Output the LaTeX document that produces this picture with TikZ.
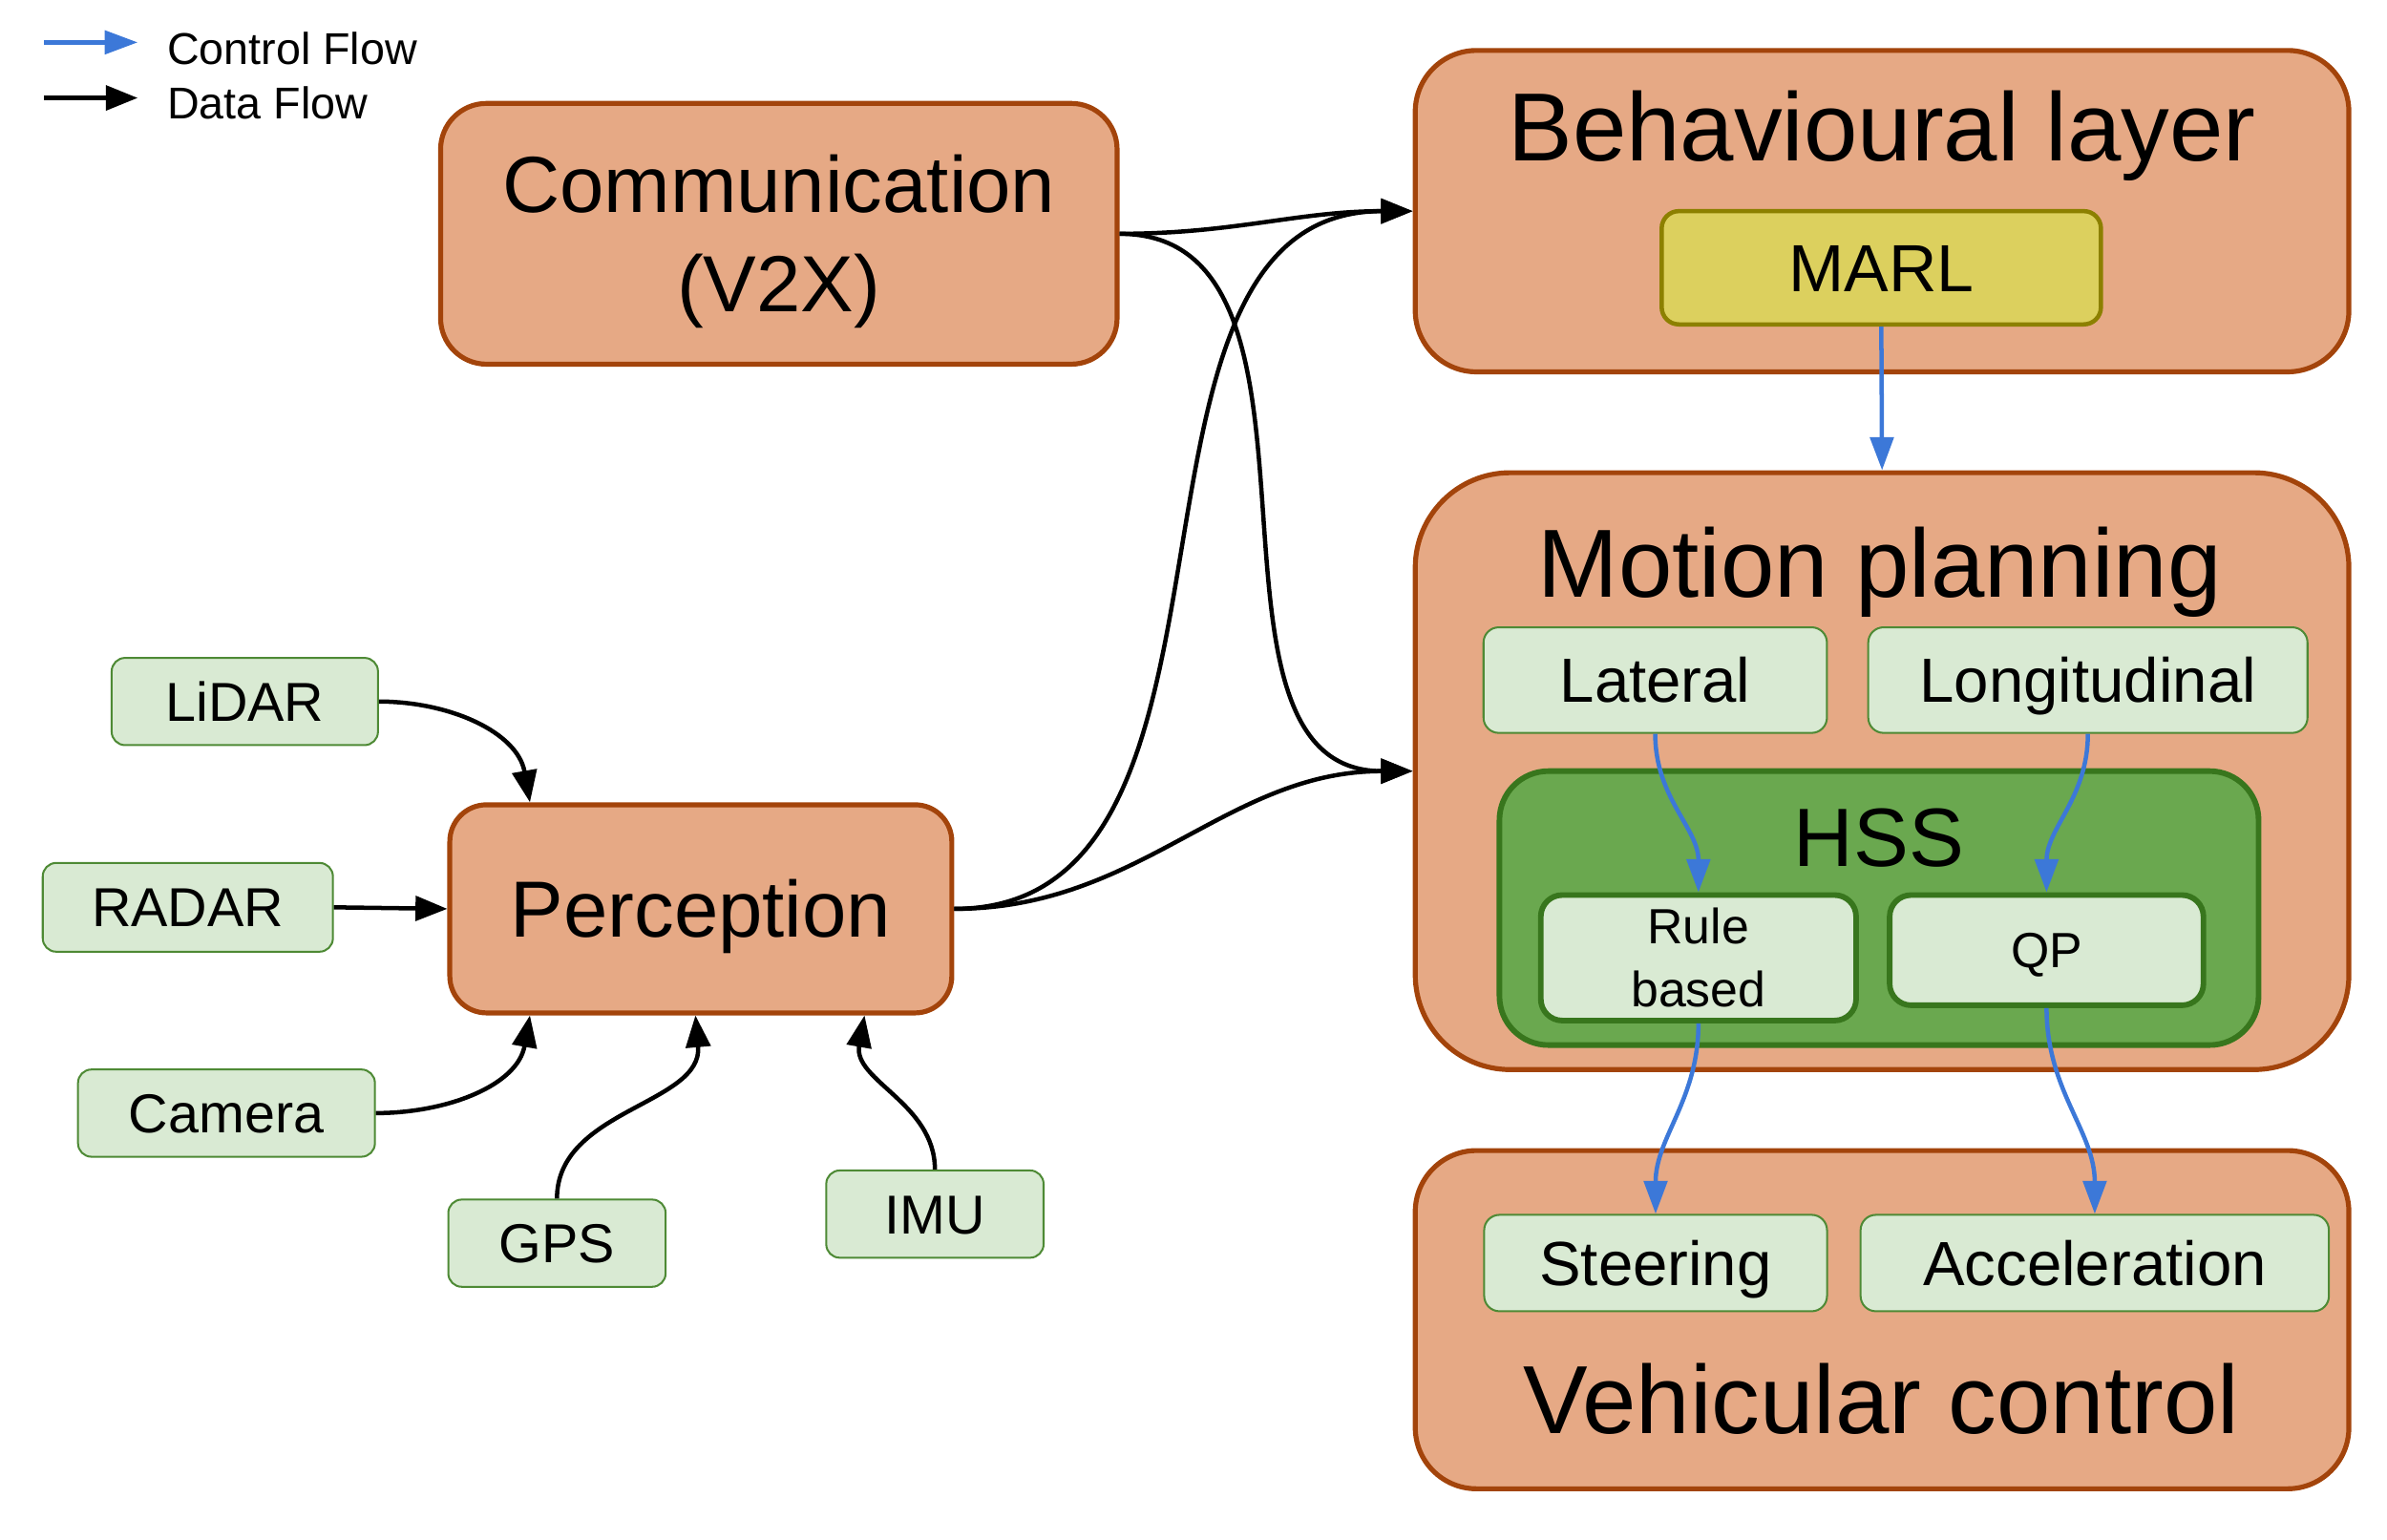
\documentclass[tikz,border=0pt]{standalone}
\usepackage{fontspec}
\setmainfont{Liberation Sans}
\usetikzlibrary{arrows.meta,calc}
\definecolor{salmon}{HTML}{E6A985}
\definecolor{rust}{HTML}{A3440B}
\definecolor{lgreen}{HTML}{D9EAD3}
\definecolor{lgborder}{HTML}{4E8A35}
\definecolor{mgreen}{HTML}{6AA84F}
\definecolor{dgreen}{HTML}{38761D}
\definecolor{ylw}{HTML}{DCD05E}
\definecolor{olive}{HTML}{8C8000}
\definecolor{cblue}{HTML}{3C78D8}
\tikzset{
  bigbox/.style={draw=rust, fill=salmon, line width=2.3pt, inner sep=0pt},
  sensor/.style={draw=lgborder, fill=lgreen, line width=0.9pt, rounded corners=0.22cm, inner sep=0pt,
    font=\fontsize{25.5}{30}\selectfont, text height=18.3pt, text depth=0pt},
  subbox/.style={draw=lgborder, fill=lgreen, line width=0.9pt, rounded corners=0.25cm, inner sep=0pt,
    font=\fontsize{29}{34}\selectfont, text height=20.8pt, text depth=0pt},
  hssbox/.style={draw=dgreen, fill=mgreen, line width=2.6pt, rounded corners=0.8cm, inner sep=0pt},
  algbox/.style={draw=dgreen, fill=lgreen, line width=2.6pt, rounded corners=0.35cm, inner sep=0pt},
  algtext/.style={anchor=base, inner sep=0pt, font=\fontsize{23}{28}\selectfont},
  title/.style={anchor=base, inner sep=0pt, font=\fontsize{45}{54}\selectfont},
  data/.style={line width=2pt, -{Triangle[length=0.52cm,width=0.4cm]}},
  ctrl/.style={line width=2pt, cblue, -{Triangle[length=0.54cm,width=0.38cm]}},
}
\begin{document}
\begin{tikzpicture}[x=0.025cm, y=-0.025cm]
\useasboundingbox (0,0) rectangle (1560,1006);
% legend
\coordinate (lc1) at (29,27.7); \coordinate (lc2) at (90,27.7);
\coordinate (ld1) at (29,64); \coordinate (ld2) at (90,64);
\draw[ctrl] (lc1) -- (lc2);
\draw[data] (ld1) -- (ld2);
\node[anchor=base west, inner sep=0pt, font=\fontsize{20.7}{25}\selectfont] (lgc) at (109,42) {Control Flow};
\node[anchor=base west, inner sep=0pt, font=\fontsize{20.7}{25}\selectfont] (lgd) at (109,77.4) {Data Flow};

% communication
\node[bigbox, rounded corners=0.75cm, minimum width=11.05cm, minimum height=4.26cm] (comm) at (509,152.8) {};
\node[anchor=base, inner sep=0pt, font=\fontsize{37}{44}\selectfont] (commA) at (509,139) {Communication};
\node[anchor=base, inner sep=0pt, font=\fontsize{37}{44}\selectfont] (commB) at (509,204) {(V2X)};

% behavioural layer
\node[bigbox, rounded corners=1.0cm, minimum width=15.25cm, minimum height=5.25cm] (beh) at (1230,138) {};
\node[title] (behT) at (1230,105) {Behavioural layer};
\node[draw=olive, fill=ylw, line width=2pt, rounded corners=0.28cm, minimum width=7.175cm, minimum height=1.85cm,
  inner sep=0pt, font=\fontsize{31}{37}\selectfont, text height=22.2pt, text depth=0pt] (marl) at (1229.5,175) {MARL};

% motion planning
\node[bigbox, rounded corners=1.55cm, minimum width=15.25cm, minimum height=9.75cm] (mp) at (1230,504) {};
\node[title] (mpT) at (1228.5,390) {Motion planning};
\node[subbox, minimum width=5.61cm, minimum height=1.725cm] (lat) at (1081.75,444.5) {Lateral};
\node[subbox, minimum width=7.175cm, minimum height=1.725cm] (lon) at (1364.5,444.5) {Longitudinal};
\node[hssbox, minimum width=12.4cm, minimum height=4.475cm] (hss) at (1228,593.5) {};
\node[anchor=base, inner sep=0pt, font=\fontsize{38.5}{46}\selectfont] (hssT) at (1228,566) {HSS};
\node[algbox, minimum width=5.15cm, minimum height=2.05cm] (rule) at (1110,626) {};
\node[algtext] (ruleA) at (1110,617) {Rule};
\node[algtext] (ruleB) at (1110,658) {based};
\node[algbox, minimum width=5.125cm, minimum height=1.8cm, font=\fontsize{23}{28}\selectfont, text height=16.5pt, text depth=0pt] (qp) at (1337.5,621) {QP};

% vehicular control
\node[bigbox, rounded corners=1.0cm, minimum width=15.25cm, minimum height=5.525cm] (vc) at (1230,862.5) {};
\node[title] (vcT) at (1229.5,937) {Vehicular control};
\node[subbox, minimum width=5.6cm, minimum height=1.575cm] (steer) at (1082,825.5) {Steering};
\node[subbox, minimum width=7.65cm, minimum height=1.575cm] (acc) at (1369,825.5) {Acceleration};

% perception and sensors
\node[bigbox, rounded corners=0.6cm, minimum width=8.2cm, minimum height=3.4cm,
  font=\fontsize{37}{44}\selectfont, text height=26.5pt, text depth=0pt] (perc) at (458,594) {Perception};
\node[sensor, minimum width=4.35cm, minimum height=1.425cm] (lidar) at (160,458.5) {LiDAR};
\node[sensor, minimum width=4.74cm, minimum height=1.45cm] (radar) at (122.75,593) {RADAR};
\node[sensor, minimum width=4.85cm, minimum height=1.425cm] (cam) at (148,727.5) {Camera};
\node[sensor, minimum width=3.55cm, minimum height=1.425cm] (gps) at (364,812.5) {GPS};
\node[sensor, minimum width=3.55cm, minimum height=1.425cm] (imu) at (611,793.5) {IMU};

% data flow
\draw[data] (lidar.east) to[out=0, in=100] ($(perc.north west)+(54,0)$);
\draw[data] (radar.east) -- (perc.west);
\draw[data] (cam.east) to[out=0, in=-100] ($(perc.south west)+(54,0)$);
\draw[data] (gps.north) to[out=90, in=-85] ($(perc.south)+(-3.5,0)$);
\draw[data] (imu.north) to[out=90, in=-100] ($(perc.south)+(107,0)$);
\draw[data] (perc.east) to[out=0, in=180] (beh.west);
\draw[data] (perc.east) to[out=0, in=180] (mp.west);
\draw[data] (comm.east) to[out=0, in=180] (beh.west);
\draw[data] (comm.east) to[out=0, in=180] (mp.west);

% control flow
\draw[ctrl] (marl.south) -- (mp.north);
\draw[ctrl] (lat.south) to[out=-90, in=90] (rule.north);
\draw[ctrl] (lon.south) to[out=-90, in=90] (qp.north);
\draw[ctrl] (rule.south) to[out=-90, in=90] (steer.north);
\draw[ctrl] (qp.south) to[out=-90, in=90] (acc.north);
\end{tikzpicture}
\end{document}
